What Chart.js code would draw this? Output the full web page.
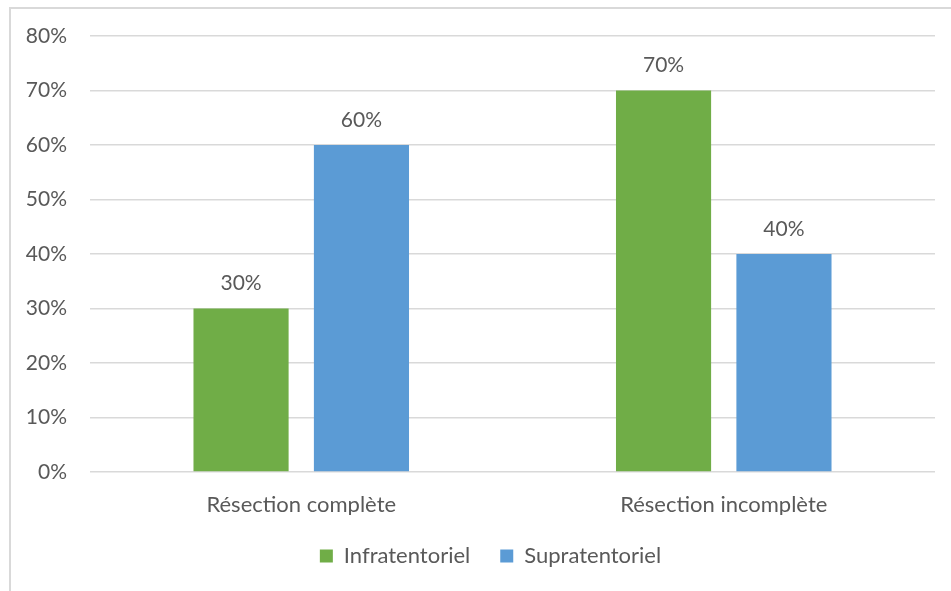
<!DOCTYPE html>
<html>
<head>
<meta charset="utf-8">
<script src="https://cdn.jsdelivr.net/npm/chart.js@4/dist/chart.umd.min.js"></script>
<style>
    html, body { margin: 0; padding: 0; background: #fff; }
    #wrap { position: relative; width: 951px; height: 591px; overflow: hidden; }
    #frame {
        position: absolute; left: 9px; top: 7px; width: 980px; height: 620px;
        border: 2px solid #d9d9d9; box-sizing: border-box;
    }
    #chart { position: absolute; left: 0; top: 0; }
</style>
</head>
<body>
<div id="wrap">
    <div id="frame"></div>
    <canvas id="chart" width="951" height="591"></canvas>
</div>
<script>
// Resection outcome by tumour location (share of patients)
const categories = ['Résection complète', 'Résection incomplète'];
const seriesNames = ['Infratentoriel', 'Supratentoriel'];
const infraValues = [30, 70];
const supraValues = [60, 40];
const seriesColors = ['#70AD47', '#5B9BD5'];
const yMax = 80;
const yStep = 10;

const textColor = '#595959';
const fontFamily = 'Lato, "Open Sans", sans-serif';
const numSize = 21;
const labelSize = 22;

// percentage labels above each bar
const valueLabels = {
    id: 'valueLabels',
    afterDatasetsDraw(chart) {
        const ctx = chart.ctx;
        ctx.save();
        ctx.fillStyle = textColor;
        ctx.font = numSize + 'px ' + fontFamily;
        ctx.textAlign = 'center';
        ctx.textBaseline = 'middle';
        chart.data.datasets.forEach((ds, i) => {
            chart.getDatasetMeta(i).data.forEach((bar, j) => {
                ctx.fillText(ds.data[j] + '%', bar.x, bar.y - 25);
            });
        });
        ctx.restore();
    }
};

// nudge the legend a bit toward the plot area's middle
const legendShift = {
    id: 'legendShift',
    afterLayout(chart) {
        const lg = chart.legend;
        const dx = (chart.chartArea.left + chart.chartArea.right) / 2 - (lg.left + lg.right) / 2 - 22;
        lg.left += dx;
        lg.right += dx;
    }
};

new Chart(document.getElementById('chart'), {
    type: 'bar',
    data: {
        labels: categories,
        datasets: [
            { label: seriesNames[0], data: infraValues, backgroundColor: seriesColors[0] },
            { label: seriesNames[1], data: supraValues, backgroundColor: seriesColors[1] }
        ]
    },
    options: {
        responsive: false,
        animation: false,
        categoryPercentage: 0.57,
        barPercentage: 0.79,
        layout: { padding: { left: 0, right: 16, top: 36, bottom: 14 } },
        scales: {
            x: {
                grid: { display: false },
                border: { display: false },
                ticks: { color: textColor, font: { family: fontFamily, size: labelSize }, padding: 12 },
                afterFit(scale) { scale.height = 43; }
            },
            y: {
                min: 0,
                max: yMax,
                ticks: {
                    stepSize: yStep,
                    color: textColor,
                    font: { family: fontFamily, size: numSize },
                    padding: 23,
                    callback: v => v + '%'
                },
                grid: { color: '#d9d9d9', lineWidth: 1.5, drawTicks: false },
                border: { display: false },
                afterFit(scale) { scale.width = 90; }
            }
        },
        plugins: {
            legend: {
                position: 'bottom',
                labels: {
                    color: textColor,
                    font: { family: fontFamily, size: labelSize },
                    boxWidth: 13,
                    boxHeight: 13,
                    padding: 30
                }
            },
            tooltip: { enabled: false }
        }
    },
    plugins: [valueLabels, legendShift]
});
</script>
</body>
</html>
